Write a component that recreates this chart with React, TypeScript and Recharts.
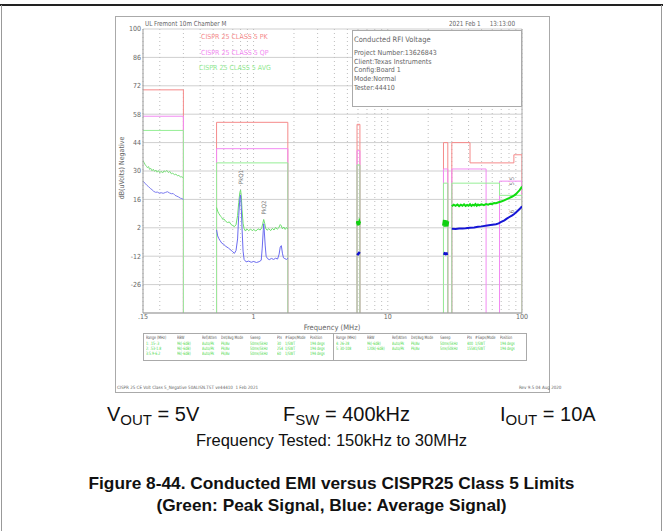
import React from 'react'
import { CartesianGrid, ComposedChart, Line, ReferenceDot, ReferenceLine, XAxis, YAxis } from 'recharts'

// CISPR 25 class 5 limit steps: [start MHz, end MHz, dBuV]
const pkSteps = [[0.15, 0.3, 70], [0.53, 1.8, 54], [5.9, 6.2, 53], [26, 28, 44], [30, 41, 44], [41, 87, 34], [87, 100, 38]]
const qpSteps = [[0.15, 0.3, 57], [0.53, 1.8, 41], [5.9, 6.2, 40], [26, 28, 31], [30, 54, 31], [68, 100, 25]]
const avgSteps = [[0.15, 0.3, 50], [0.53, 1.8, 34], [5.9, 6.2, 33], [26, 28, 24], [30, 68, 24], [68, 100, 18]]

// measured traces, [MHz, dBuV]
const peak1 = [[0.15, 35.2], [0.153, 34.1], [0.156, 33.0], [0.159, 32.4], [0.162, 31.6], [0.165, 32.2], [0.168, 30.8], [0.171, 31.4], [0.175, 30.1], [0.179, 30.9], [0.183, 29.8], [0.187, 30.5], [0.191, 29.4], [0.196, 30.2], [0.2, 29.1], [0.205, 29.9], [0.21, 29.0], [0.215, 30.1], [0.22, 29.6], [0.226, 30.3], [0.232, 29.2], [0.238, 29.8], [0.244, 28.6], [0.25, 29.0], [0.257, 28.1], [0.264, 28.5], [0.271, 27.6], [0.278, 27.9], [0.285, 27.0], [0.292, 27.2], [0.3, 26.5]]
const avg1 = [[0.15, 25.0], [0.155, 24.0], [0.16, 23.0], [0.165, 22.3], [0.17, 21.4], [0.175, 20.8], [0.18, 20.0], [0.186, 19.5], [0.192, 19.6], [0.198, 19.1], [0.205, 19.3], [0.212, 19.0], [0.22, 19.4], [0.228, 19.8], [0.236, 19.2], [0.244, 18.8], [0.252, 18.9], [0.26, 18.0], [0.268, 17.6], [0.276, 17.2], [0.285, 16.6], [0.292, 16.4], [0.3, 16.0]]
const peak2 = [[0.53, 12.0], [0.54, 10.2], [0.55, 9.1], [0.56, 8.3], [0.57, 7.6], [0.58, 7.0], [0.59, 6.1], [0.6, 6.4], [0.62, 5.2], [0.64, 4.6], [0.66, 4.9], [0.68, 3.6], [0.7, 3.1], [0.72, 2.6], [0.74, 3.5], [0.76, 8.0], [0.775, 14.5], [0.79, 19.5], [0.8, 20.6], [0.81, 17.8], [0.82, 11.0], [0.835, 4.2], [0.85, 1.6], [0.87, 0.4], [0.89, 1.5], [0.92, 0.6], [0.95, 1.4], [0.98, 0.5], [1.0, 1.2], [1.04, 0.4], [1.08, 1.5], [1.12, 0.9], [1.15, 2.0], [1.17, 4.0], [1.19, 6.1], [1.21, 4.2], [1.23, 1.8], [1.26, 0.8], [1.3, 1.6], [1.34, 0.6], [1.38, 1.7], [1.42, 0.9], [1.46, 2.2], [1.5, 1.3], [1.54, 2.0], [1.58, 3.6], [1.61, 3.0], [1.64, 1.5], [1.68, 2.4], [1.72, 1.2], [1.76, 2.1], [1.8, 1.5]]
const avg2 = [[0.53, 1.0], [0.54, -2.0], [0.55, -3.2], [0.56, -4.1], [0.58, -5.6], [0.6, -6.2], [0.62, -7.1], [0.65, -8.0], [0.68, -9.1], [0.7, -9.8], [0.72, -10.6], [0.74, -9.2], [0.76, -3.5], [0.775, 8.0], [0.79, 16.5], [0.8, 18.2], [0.81, 12.0], [0.82, 2.0], [0.835, -9.5], [0.85, -13.6], [0.88, -14.8], [0.92, -14.4], [0.96, -15.0], [1.0, -14.6], [1.05, -15.1], [1.1, -14.7], [1.14, -14.0], [1.16, -8.0], [1.18, 0.5], [1.19, 4.0], [1.2, 1.0], [1.22, -6.5], [1.24, -12.0], [1.27, -13.2], [1.31, -13.7], [1.36, -13.1], [1.41, -13.6], [1.46, -13.0], [1.51, -13.4], [1.55, -11.0], [1.58, -7.5], [1.61, -6.8], [1.64, -10.5], [1.67, -12.8], [1.71, -13.2], [1.76, -13.6], [1.8, -13.0]]
const peak3 = [[5.9, 4.0], [5.95, 5.3], [6.0, 3.2], [6.05, 5.1], [6.1, 3.5], [6.15, 4.8], [6.2, 4.2]]
const avg3 = [[5.9, -10.6], [6.0, -11.0], [6.1, -10.4], [6.2, -10.8]]
const peak4 = [[26, 3.0], [26.4, 5.8], [26.8, 2.6], [27.2, 5.6], [27.6, 2.8], [28, 5.2]]
const avg4 = [[26, -10.5], [27, -10.9], [28, -10.6]]
const peak5 = [[30, 12.6], [31, 13.4], [32, 12.8], [33, 13.5], [34, 12.7], [35, 13.4], [36, 12.9], [37, 13.6], [38, 12.8], [39, 13.3], [40, 12.9], [41, 13.6], [42, 12.8], [43, 13.4], [44, 13.0], [45, 13.7], [46, 12.9], [47, 13.5], [48, 13.1], [50, 13.6], [52, 13.2], [54, 13.7], [56, 13.4], [58, 13.9], [60, 13.8], [62, 14.2], [64, 14.1], [67, 14.6], [70, 15.0], [73, 15.4], [77, 16.1], [80, 16.6], [84, 17.3], [87, 17.9], [90, 18.6], [93, 19.6], [96, 20.6], [98, 21.4], [100, 22.3]]
const avg5 = [[30, 1.5], [32, 1.4], [34, 1.6], [36, 1.7], [38, 1.8], [41, 2.0], [44, 2.2], [47, 2.5], [50, 2.7], [55, 3.1], [60, 3.5], [64, 3.8], [67, 4.2], [70, 4.9], [74, 5.7], [77, 6.5], [80, 7.2], [84, 8.0], [87, 8.7], [90, 9.5], [93, 10.4], [96, 11.3], [98, 11.9], [100, 12.6]]

const markers = [[0.8, 27, 'PkQ1'], [1.19, 12, 'PkQ2'], [84, 25, '5 5'], [84, 10, '6']]

const yTicks = [-40, -26, -12, 2, 16, 30, 44, 58, 72, 86, 100]
const gridFreqs = [0.15, 0.2, 0.3, 0.4, 0.5, 0.6, 0.7, 0.8, 0.9, 1, 2, 3, 4, 5, 6, 7, 8, 9, 10, 20, 30, 40, 50, 60, 70, 80, 90, 100]
const xLabelFreqs = [0.15, 1, 10, 100]
const xLabelText = ['.15', '1', '10', '100']

const legendNames = ['CISPR 25 CLASS 5 PK', 'CISPR 25 CLASS 5 QP', 'CISPR 25 CLASS 5 AVG']
const infoLines = ['Project Number:13626843', 'Client:Texas Instruments', 'Config:Board 1', 'Mode:Normal', 'Tester:44410']
const tableHead = ['Range (MHz)', 'RBW', 'Ref/Atten', 'Det/Avg Mode', 'Sweep', 'Pts', '#Swps/Mode', 'Position']
const tableLeft = [
  ['1: .15-.3', '9k(-6dB)', 'Auto/Pk', 'Pk/Av', '50ms/5kHz', '30', '1/SWT', '194 degs'],
  ['2: .53-1.8', '9k(-6dB)', 'Auto/Pk', 'Pk/Av', '50ms/5kHz', '254', '1/SWT', '194 degs'],
  ['3:5.9-6.2', '9k(-6dB)', 'Auto/Pk', 'Pk/Av', '50ms/5kHz', '60', '1/SWT', '194 degs'],
]
const tableRight = [
  ['4: 26-28', '9k(-6dB)', 'Auto/Pk', 'Pk/Av', '50ms/5kHz', '400', '1/SWT', '194 degs'],
  ['5: 30-108', '120k(-6dB)', 'Auto/Pk', 'Pk/Av', '5ms/50kHz', '1558', '1/SWT', '194 degs'],
]

const FONT = "'DejaVu Sans Condensed', 'DejaVu Sans', sans-serif"
const colOffsets = [3, 34, 59, 78, 107, 134, 142, 167]

function stepsToPoints(steps: number[][]) {
  const pts: { f: number; v: number | null }[] = []
  steps.forEach(([a, b, lvl], i) => {
    const prev = steps[i - 1]
    const next = steps[i + 1]
    const joinPrev = prev && prev[1] === a
    const joinNext = next && next[0] === b
    if (!joinPrev && a > 0.15) pts.push({ f: a, v: -40 })
    pts.push({ f: a, v: lvl })
    pts.push({ f: b, v: lvl })
    if (!joinNext) {
      pts.push({ f: b, v: -40 })
      pts.push({ f: b, v: null })
    }
  })
  return pts
}

const toRows = (arr: number[][]) => arr.map(([f, v]) => ({ f, v }))

const narrow = { transform: 'scaleX(0.78)', transformOrigin: 'left top' }

function TableHalf({ left, rows }: { left: number; rows: string[][] }) {
  return (
    <>
      {tableHead.map((t, i) => (
        <div key={'h' + i} style={{ position: 'absolute', left: left + colOffsets[i], top: 334.5, fontSize: 4.5, color: '#555', whiteSpace: 'nowrap', ...narrow }}>{t}</div>
      ))}
      {rows.map((r, ri) =>
        r.map((t, i) => (
          <div key={ri + '-' + i} style={{ position: 'absolute', left: left + colOffsets[i], top: 340.5 + ri * 5.2, fontSize: 4.5, color: '#3fd83f', whiteSpace: 'nowrap', ...narrow }}>{t}</div>
        ))
      )}
    </>
  )
}

export default function App() {
  const lineProps = { type: 'linear' as const, dataKey: 'v', dot: false, isAnimationActive: false, connectNulls: false }
  const sub = { fontSize: 15, position: 'relative' as const, top: 4 }
  return (
    <div style={{ position: 'absolute', left: 0, top: 0, width: 663, height: 531, background: '#fff', overflow: 'hidden', fontFamily: FONT }}>
      {/* page frame */}
      <div style={{ position: 'absolute', left: 0, top: 4, width: 663, height: 2, background: '#222' }} />
      <div style={{ position: 'absolute', left: 1, top: 5, width: 1, height: 526, background: '#999' }} />
      <div style={{ position: 'absolute', left: 661, top: 5, width: 1, height: 526, background: '#999' }} />
      {/* scanned plot frame */}
      <div style={{ position: 'absolute', left: 115, top: 16, width: 435, height: 377, border: '1px solid #aaa', boxSizing: 'border-box' }} />
      <div style={{ position: 'absolute', left: 145, top: 20, fontSize: 7, color: '#666', whiteSpace: 'nowrap', ...narrow, transform: 'scaleX(0.9)' }}>UL Fremont 10m Chamber M</div>
      <div style={{ position: 'absolute', left: 449, top: 20, fontSize: 7, color: '#666', whiteSpace: 'pre', ...narrow, transform: 'scaleX(0.9)' }}>{'2021 Feb 1     13:13:00'}</div>

      <div style={{ position: 'absolute', left: 0, top: 0 }}>
        <ComposedChart width={560} height={331} margin={{ top: 29, right: 38, bottom: 0, left: 0 }}>
          <CartesianGrid vertical={false} stroke="#cfcfcf" />
          <CartesianGrid horizontal={false} stroke="#bdbdbd" strokeDasharray="1 3" />
          <XAxis
            type="number"
            dataKey="f"
            scale="log"
            domain={[0.15, 100]}
            allowDataOverflow
            ticks={gridFreqs}
            interval={0}
            tickFormatter={(v: number) => { const i = xLabelFreqs.indexOf(v); return i >= 0 ? xLabelText[i] : '' }}
            tickLine={false}
            tickSize={0}
            axisLine={{ stroke: '#999' }}
            height={18}
            tick={{ fontSize: 7, fill: '#666', fontFamily: FONT }}
            tickMargin={1}
          />
          <YAxis
            type="number"
            domain={[-40, 100]}
            ticks={yTicks}
            interval={0}
            tickFormatter={(v: number) => (v === -40 ? '' : String(v))}
            tickLine={false}
            tickSize={0}
            axisLine={{ stroke: '#999' }}
            width={143}
            tick={{ fontSize: 7, fill: '#666', fontFamily: FONT }}
            tickMargin={2}
          />
          <ReferenceLine x={100} stroke="#aaa" />
          <Line {...lineProps} data={stepsToPoints(pkSteps)} stroke="#f58a8a" strokeWidth={1} />
          <Line {...lineProps} data={stepsToPoints(qpSteps)} stroke="#f28af2" strokeWidth={1} />
          <Line {...lineProps} data={stepsToPoints(avgSteps)} stroke="#96ee96" strokeWidth={1} />
          <Line {...lineProps} data={toRows(peak1)} stroke="#7ee07e" strokeWidth={1} />
          <Line {...lineProps} data={toRows(avg1)} stroke="#7b7bf0" strokeWidth={1} />
          <Line {...lineProps} data={toRows(peak2)} stroke="#6ee06e" strokeWidth={1} />
          <Line {...lineProps} data={toRows(avg2)} stroke="#6b6bf0" strokeWidth={1} />
          <Line {...lineProps} data={toRows(peak3)} stroke="#10d010" strokeWidth={2.5} />
          <Line {...lineProps} data={toRows(avg3)} stroke="#1010d0" strokeWidth={2.5} />
          <Line {...lineProps} data={toRows(peak4)} stroke="#10d010" strokeWidth={3} />
          <Line {...lineProps} data={toRows(avg4)} stroke="#1010d0" strokeWidth={3} />
          <Line {...lineProps} data={toRows(peak5)} stroke="#10dd10" strokeWidth={2} />
          <Line {...lineProps} data={toRows(avg5)} stroke="#1515d5" strokeWidth={2} />
          {markers.map(([f, v, t], i) => (
            <ReferenceDot key={i} x={f as number} y={v as number} r={0} stroke="none" fill="none"
              label={{ value: t as string, angle: -90, fontSize: 6, fill: '#777', position: 'center', fontFamily: FONT }} />
          ))}
        </ComposedChart>
      </div>

      {/* legend texts */}
      {legendNames.map((t, i) => (
        <div key={t} style={{ position: 'absolute', left: i === 2 ? 199 : 201, top: 33 + i * 15.7, fontSize: 7, color: ['#f58a8a', '#f28af2', '#90ea90'][i], whiteSpace: 'nowrap' }}>{t}</div>
      ))}

      {/* info box */}
      <div style={{ position: 'absolute', left: 352, top: 30, width: 170, height: 77, background: '#fff', border: '1px solid #aaa', boxSizing: 'border-box' }}>
        <div style={{ position: 'absolute', left: 1, top: 4, fontSize: 7.5, color: '#666', whiteSpace: 'nowrap' }}>Conducted RFI Voltage</div>
        {infoLines.map((t, i) => (
          <div key={t} style={{ position: 'absolute', left: 1, top: 18 + i * 8.7, fontSize: 7, color: '#666', whiteSpace: 'nowrap' }}>{t}</div>
        ))}
      </div>

      {/* y axis title */}
      <div style={{ position: 'absolute', left: 122, top: 168, width: 0, height: 0 }}>
        <div style={{ position: 'absolute', transform: 'translate(-50%, -50%) rotate(-90deg)', fontSize: 7, color: '#666', whiteSpace: 'nowrap' }}>dB(uVolts) Negative</div>
      </div>

      <div style={{ position: 'absolute', left: 232, width: 200, top: 323, textAlign: 'center', fontSize: 7.5, color: '#666' }}>Frequency (MHz)</div>

      {/* sweep table */}
      <div style={{ position: 'absolute', left: 143, top: 333, width: 384, height: 28, border: '1px solid #aaa', boxSizing: 'border-box' }} />
      <div style={{ position: 'absolute', left: 333, top: 333, width: 1, height: 28, background: '#aaa' }} />
      <TableHalf left={143} rows={tableLeft} />
      <TableHalf left={333} rows={tableRight} />

      <div style={{ position: 'absolute', left: 117, top: 385, fontSize: 4.5, color: '#666', whiteSpace: 'pre' }}>{'CISPR 25 CE Volt Class 5_Negative 50ALISN.TST ve44410  1 Feb 2021'}</div>
      <div style={{ position: 'absolute', left: 519, top: 385, fontSize: 4.5, color: '#666', whiteSpace: 'nowrap' }}>Rev 9.5 04 Aug 2020</div>

      {/* caption */}
      <div style={{ fontFamily: "'Liberation Sans', Arial, sans-serif", color: '#111' }}>
        <div style={{ position: 'absolute', left: 107, top: 403, fontSize: 20, whiteSpace: 'pre' }}>V<span style={sub}>OUT</span> = 5V</div>
        <div style={{ position: 'absolute', left: 283, top: 403, fontSize: 20, whiteSpace: 'pre' }}>F<span style={sub}>SW</span> = 400kHz</div>
        <div style={{ position: 'absolute', left: 500, top: 403, fontSize: 20, whiteSpace: 'pre' }}>I<span style={sub}>OUT</span> = 10A</div>
        <div style={{ position: 'absolute', left: 0, width: 663, top: 431, textAlign: 'center', fontSize: 16.5 }}>Frequency Tested: 150kHz to 30MHz</div>
        <div style={{ position: 'absolute', left: 0, width: 663, top: 473, textAlign: 'center', fontSize: 17.3, fontWeight: 'bold' }}>Figure 8-44. Conducted EMI versus CISPR25 Class 5 Limits</div>
        <div style={{ position: 'absolute', left: 0, width: 663, top: 495, textAlign: 'center', fontSize: 17.3, fontWeight: 'bold' }}>(Green: Peak Signal, Blue: Average Signal)</div>
      </div>
    </div>
  )
}
